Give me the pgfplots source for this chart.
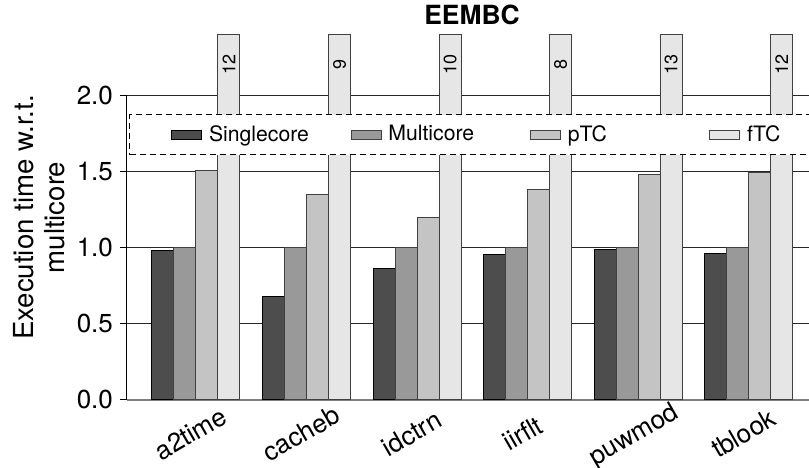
\documentclass[border=0pt]{standalone}
\usepackage{fontspec}
\setmainfont{TeX Gyre Heros}
\usepackage{pgfplots}
\pgfplotsset{compat=1.18}
\definecolor{cSingle}{HTML}{4D4D4D}
\definecolor{cMulti}{HTML}{999999}
\definecolor{cpTC}{HTML}{C4C4C4}
\definecolor{cfTC}{HTML}{E6E6E6}
\pgfplotsset{mylegend/.style={legend image code/.code={\draw[##1,solid,line width=0.5pt] (0pt,-2.25pt) rectangle (15pt,2.25pt);}}}
\begin{document}
\begin{tikzpicture}
\begin{axis}[
  scale only axis, width=345pt, height=152.2pt,
  xmin=-0.624, xmax=5.617, ymin=0, ymax=2.0,
  clip=false,
  ybar=0pt, bar width=11pt,
  axis x line*=bottom, axis y line*=left,
  axis line style={-},
  x axis line style={-, draw=black!50, line width=0.9pt},
  y axis line style={-, draw=black, line width=0.5pt},
  xtick={0,...,5}, xticklabels={a2time,cacheb,idctrn,iirflt,puwmod,tblook},
  xtick style={draw=none},
  ytick={0,0.5,1,1.5,2},
  yticklabel style={/pgf/number format/.cd,fixed,fixed zerofill,precision=1},
  /pgf/number format/assume math mode=true,
  tick align=outside, major tick length=3.5pt,
  ytick style={draw=black, line width=0.5pt},
  ymajorgrids, grid style={draw=black!85, line width=0.5pt},
  tick label style={font=\fontsize{13}{15}\selectfont},
  xticklabel style={xshift=-2pt, yshift=-14.5pt, rotate=30, anchor=center, text height=9.5pt, text depth=2.8pt},
  title={EEMBC},
  title style={at={(0.5,1)}, anchor=center, yshift=34.2pt, font=\bfseries\fontsize{13.2}{15}\selectfont},
  ylabel={Execution time w.r.t.\\multicore},
  ylabel style={at={(-0.1268,0.5986)}, anchor=center, align=center, font=\fontsize{13.8}{15.5}\selectfont},
  legend columns=4,
  legend style={at={(0.0029,0.9386)}, anchor=north west, draw=black, line width=0.6pt,
    dash pattern=on 3pt off 2pt, fill=white, inner xsep=20.85pt, inner ysep=5.3pt,
    nodes={inner sep=0pt, font=\fontsize{10.6}{12}\selectfont},
    /tikz/every odd column/.append style={column sep=3.35pt},
    /tikz/every even column/.append style={column sep=0pt}},
]
\coordinate (O) at (rel axis cs:0,0);
\addplot[fill=cSingle, draw=black, line width=0.5pt, mylegend] coordinates {
(0,0.978) (1,0.678) (2,0.863) (3,0.954) (4,0.990) (5,0.963)};
\addlegendentry{\makebox[70.85pt][l]{Singlecore}}
\addplot[fill=cMulti, draw=black!75, line width=0.5pt, mylegend] coordinates {
(0,1.0) (1,1.0) (2,1.0) (3,1.0) (4,1.0) (5,1.0)};
\addlegendentry{\makebox[70.85pt][l]{Multicore}}
\addplot[fill=cpTC, draw=black!75, line width=0.5pt, mylegend] coordinates {
(0,1.507) (1,1.345) (2,1.200) (3,1.382) (4,1.478) (5,1.491)};
\addlegendentry{\makebox[70.85pt][l]{pTC}}
\addplot[fill=cfTC, draw=black!75, line width=0.5pt, mylegend,
  nodes near coords, point meta=explicit,
  every node near coord/.append style={yshift=-15pt, rotate=90, anchor=center, text=black, font=\fontsize{9}{10}\selectfont}]
  table[x=x, y expr={min(\thisrow{y},2.4)}, meta=y] {
x y
0 12
1 9
2 10
3 8
4 13
5 12
};
\addlegendentry{\makebox[70.85pt][l]{fTC}}
\end{axis}
\pgfresetboundingbox
\path[use as bounding box] ([shift={(-63.5pt,-33.65pt)}]O) rectangle ([shift={(341pt,199.85pt)}]O);
\end{tikzpicture}
\end{document}
